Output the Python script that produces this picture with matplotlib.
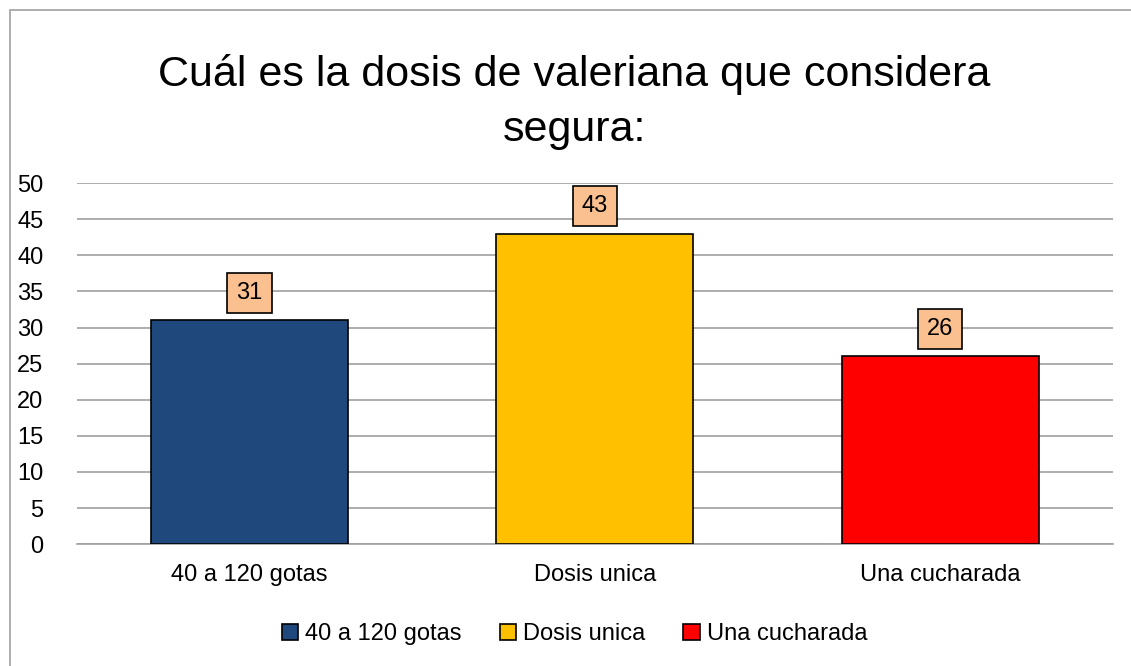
import matplotlib.pyplot as plt
from matplotlib.patches import Patch, Rectangle

categorias = ["40 a 120 gotas", "Dosis unica", "Una cucharada"]
valores = [31, 43, 26]
colores = ["#1F497D", "#FFC000", "#FF0000"]
yticks = [0, 5, 10, 15, 20, 25, 30, 35, 40, 45, 50]

plt.rcParams["font.family"] = ["Liberation Sans Narrow", "Liberation Sans", "DejaVu Sans"]

fig = plt.figure(figsize=(11.31, 6.66), dpi=100)
fig.patches.append(Rectangle((0.009, -0.01), 1.0, 0.995, transform=fig.transFigure,
                             fill=False, edgecolor="#A0A0A0", linewidth=1.2))
ax = fig.add_axes([0.068, 0.183, 0.916, 0.542])

x = range(len(categorias))
bars = ax.bar(x, valores, width=0.57, color=colores, edgecolor="black", linewidth=1.2, zorder=3)

for xi, v in zip(x, valores):
    ax.annotate(str(v), (xi, v), xytext=(0, 20), textcoords="offset points",
                ha="center", va="center", fontsize=17,
                bbox=dict(boxstyle="square,pad=0.38", facecolor="#FAC090", edgecolor="black", linewidth=1.2),
                zorder=4)

ax.set_xlim(-0.5, 2.5)
ax.set_ylim(0, 50)
ax.set_yticks(yticks)
ax.set_xticks(list(x))
ax.set_xticklabels(categorias)
ax.tick_params(axis="both", length=0, labelsize=17)
ax.tick_params(axis="x", pad=14)
ax.tick_params(axis="y", pad=24)
ax.grid(axis="y", color="#A0A0A0", linewidth=1.2, zorder=0)
for s in ["top", "right", "left"]:
    ax.spines[s].set_visible(False)
ax.spines["bottom"].set_color("#A0A0A0")
ax.spines["bottom"].set_linewidth(1.2)

fig.text(0.508, 0.847, "Cuál es la dosis de valeriana que considera\nsegura:", ha="center", va="center",
         fontsize=31, linespacing=1.5)

handles = [Patch(facecolor=c, edgecolor="black", linewidth=1.2) for c in colores]
fig.legend(handles, categorias, loc="center", bbox_to_anchor=(0.508, 0.048), ncol=3, frameon=False,
           fontsize=17, handlelength=0.7, handleheight=0.7, handletextpad=0.3, columnspacing=1.6)

fig.savefig("out.png", dpi=100)
